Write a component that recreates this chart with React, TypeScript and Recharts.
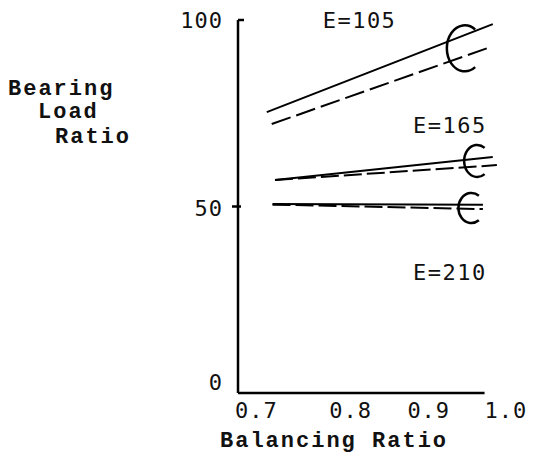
import { ComposedChart, Line, Scatter, XAxis, YAxis, ReferenceLine } from "recharts";

const xTicks = [0.7, 0.8, 0.9, 1.0];
const yTicks = [0, 50, 100];

// E=105
const e105Solid = [
  { x: 0.735, y: 75.3 },
  { x: 1.01, y: 98.9 },
];
const e105Dashed = [
  { x: 0.741, y: 72.1 },
  { x: 1.004, y: 92.5 },
];
// E=165
const e165Solid = [
  { x: 0.745, y: 57.1 },
  { x: 1.01, y: 63.3 },
];
const e165Dashed = [
  { x: 0.745, y: 57.1 },
  { x: 1.015, y: 61.1 },
];
// E=210
const e210Solid = [
  { x: 0.742, y: 50.7 },
  { x: 0.998, y: 50.5 },
];
const e210Dashed = [
  { x: 0.742, y: 50.5 },
  { x: 0.998, y: 49.3 },
];

const brackets = [
  { id: "105", x: 0.976, y: 92.4 },
  { id: "165", x: 0.991, y: 62.2 },
  { id: "210", x: 0.984, y: 49.6 },
];

const curveLabels = [
  { text: "E=105", x: 0.803, y: 97.9 },
  { text: "E=165", x: 0.913, y: 69.7 },
  { text: "E=210", x: 0.913, y: 30.3 },
];

const bracketSize: Record<string, { rx: number; ry: number }> = {
  "105": { rx: 18, ry: 23 },
  "165": { rx: 13, ry: 16 },
  "210": { rx: 13, ry: 15 },
};

// hand-lettered tick labels sit a bit right of their ticks
const xLabelShift: Record<string, number> = { "0.7": -3, "0.8": 9, "0.9": 5, "1.0": 0 };

const numFont = "'DejaVu Sans Mono', monospace";
const textFont = "'Liberation Mono', 'Courier New', monospace";

const Bracket = (props: any) => {
  const { cx, cy, payload } = props;
  const { rx, ry } = bracketSize[payload.id];
  const a = (55 * Math.PI) / 180;
  const x1 = cx + rx * Math.cos(a);
  const y1 = cy - ry * Math.sin(a);
  const y2 = cy + ry * Math.sin(a);
  return (
    <path
      d={`M${x1},${y1} A${rx},${ry} 0 1 0 ${x1},${y2}`}
      fill="none"
      stroke="#000"
      strokeWidth={2.5}
    />
  );
};

const CurveLabel = (props: any) => {
  const { cx, cy, payload } = props;
  return (
    <text x={cx} y={cy} fontFamily={numFont} fontSize={22} letterSpacing={1.5} fill="#111">
      {payload.text}
    </text>
  );
};

const YTick = (props: any) => {
  const { x, y, payload } = props;
  const v = payload.value;
  const dy = v === 0 ? -3 : v === 50 ? 9 : 8;
  return (
    <g>
      {v === 100 && <line x1={x} x2={x + 6} y1={y} y2={y} stroke="#000" strokeWidth={2.5} />}
      {v === 50 && <line x1={x - 6} x2={x + 3} y1={y} y2={y} stroke="#000" strokeWidth={2.5} />}
      <text x={x - 15} y={y + dy} textAnchor="end" fontFamily={numFont} fontSize={22} letterSpacing={1} fill="#111">
        {v}
      </text>
    </g>
  );
};

const XTick = (props: any) => {
  const { x, y, payload } = props;
  const label = payload.value.toFixed(1);
  return (
    <text
      x={x + (xLabelShift[label] ?? 0)}
      y={y + 25}
      textAnchor="start"
      fontFamily={numFont}
      fontSize={22}
      letterSpacing={1}
      fill="#111"
    >
      {label}
    </text>
  );
};

const YTitle = () => (
  <g fontFamily={textFont} fontSize={22} fontWeight="bold" letterSpacing={2} fill="#111">
    <text x={8} y={95}>Bearing</text>
    <text x={38} y={118}>Load</text>
    <text x={55} y={143}>Ratio</text>
  </g>
);

const XTitle = () => (
  <text x={220} y={447} fontFamily={textFont} fontSize={22} fontWeight="bold" letterSpacing={2} fill="#111">
    Balancing Ratio
  </text>
);

export default function App() {
  return (
    <div style={{ position: "absolute", left: 0, top: 0, width: 533, height: 464, background: "#fff" }}>
      <ComposedChart width={533} height={464} margin={{ top: 20, right: 32, left: 0, bottom: 0 }}>
        <XAxis
          type="number"
          dataKey="x"
          domain={[0.7, 1.02]}
          ticks={xTicks}
          axisLine={false}
          tickLine={false}
          tickSize={0}
          tickMargin={0}
          height={71}
          tick={<XTick />}
          label={{ content: () => <XTitle /> }}
        />
        <YAxis
          type="number"
          dataKey="y"
          domain={[0, 100]}
          ticks={yTicks}
          width={238}
          axisLine={{ stroke: "#000", strokeWidth: 2.5 }}
          tickLine={false}
          tickSize={0}
          tickMargin={0}
          tick={<YTick />}
          label={{ content: () => <YTitle /> }}
        />
        <ReferenceLine
          segment={[
            { x: 0.7, y: 0 },
            { x: 1.0, y: 0 },
          ]}
          stroke="#000"
          strokeWidth={2.5}
        />
        <Line data={e105Solid} dataKey="y" stroke="#000" strokeWidth={2} dot={false} isAnimationActive={false} />
        <Line data={e105Dashed} dataKey="y" stroke="#000" strokeWidth={2} strokeDasharray="20 6" dot={false} isAnimationActive={false} />
        <Line data={e165Solid} dataKey="y" stroke="#000" strokeWidth={2} dot={false} isAnimationActive={false} />
        <Line data={e165Dashed} dataKey="y" stroke="#000" strokeWidth={2} strokeDasharray="18 5" dot={false} isAnimationActive={false} />
        <Line data={e210Solid} dataKey="y" stroke="#000" strokeWidth={2} dot={false} isAnimationActive={false} />
        <Line data={e210Dashed} dataKey="y" stroke="#000" strokeWidth={2} strokeDasharray="18 5" dot={false} isAnimationActive={false} />
        <Scatter data={brackets} dataKey="y" shape={<Bracket />} isAnimationActive={false} />
        <Scatter data={curveLabels} dataKey="y" shape={<CurveLabel />} isAnimationActive={false} />
      </ComposedChart>
    </div>
  );
}
